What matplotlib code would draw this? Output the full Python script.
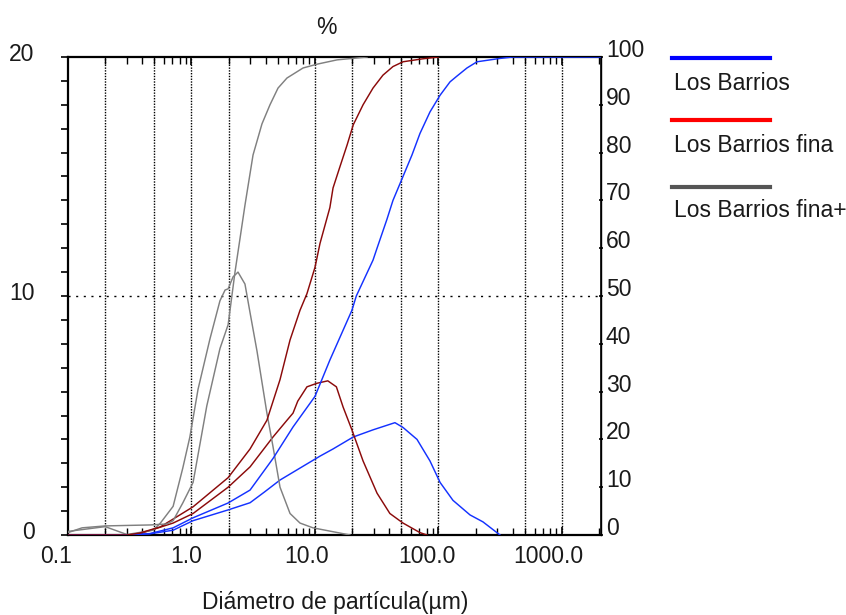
import matplotlib
matplotlib.use("Agg")
import matplotlib.pyplot as plt
from matplotlib.lines import Line2D
from matplotlib.ticker import FixedLocator, MultipleLocator, NullFormatter, LogLocator
import matplotlib.transforms as mtransforms

plt.rcParams['font.family'] = ['Liberation Sans', 'DejaVu Sans']
FS = 16.5
TXT = '#1a1a1a'

# ---------------- data (diameters in µm) ----------------
# Los Barrios
lb_freq_d = [0.1, 0.3, 0.46, 0.71, 1.03, 1.98, 2.98, 3.9, 5.21, 7.56, 10.98, 14.0, 20.4, 29.5, 44.4,
             51.6, 67, 85.3, 103, 131, 180, 229, 315]
lb_freq_v = [0, 0, 0.05, 0.2, 0.6, 1.05, 1.35, 1.8, 2.3, 2.8, 3.3, 3.6, 4.1, 4.4, 4.7,
             4.5, 4.0, 3.1, 2.2, 1.45, 0.84, 0.55, 0]
lb_cum_d = [0.1, 0.3, 0.46, 0.71, 1.03, 1.98, 2.98, 4.57, 6.64, 10.0, 13.2, 19.9, 21.6,
            29.5, 31.8, 38.2, 42.8, 51.6, 61, 70.8, 85.3, 103, 124, 141, 170, 205, 315, 400, 2070]
lb_cum_v = [0, 0, 0.3, 1.5, 3.6, 6.7, 9.4, 16, 22.6, 29, 36.6, 47, 50,
            57.5, 60, 66, 70, 75, 79.5, 84, 88.5, 92, 94.8, 96, 97.7, 99, 99.7, 100, 100]

# Los Barrios fina
lf_freq_d = [0.1, 0.3, 0.38, 0.71, 1.03, 1.98, 2.98, 4.57, 5.93, 6.64, 7.25, 8.61, 10.4, 12.7,
             14.9, 16.9, 19.9, 24.5, 31.8, 40.4, 51.6, 70.8, 80.7]
lf_freq_v = [0, 0, 0.05, 0.5, 0.9, 2.0, 2.85, 4.1, 4.8, 5.1, 5.6, 6.2, 6.35, 6.45,
             6.2, 5.35, 4.4, 3.1, 1.75, 0.9, 0.5, 0.1, 0]
lf_cum_d = [0.1, 0.3, 0.38, 0.56, 1.03, 1.98, 2.98, 4.08, 5.21, 6.28, 7.56, 8.61, 10.0, 10.98,
            13.2, 14.0, 15.9, 18.2, 20.4, 24.5, 29.5, 35.5, 42.8, 51.6, 73.5, 100]
lf_cum_v = [0, 0, 0.4, 1.7, 5.9, 12, 18, 24, 32.5, 40.8, 47, 50.5, 56, 61,
            68.5, 72.6, 77, 81.6, 85.8, 90, 93.5, 96.2, 98, 99, 99.6, 100]

# Los Barrios fina+
lp_freq_d = [0.1, 0.2, 0.3, 0.49, 0.56, 0.71, 0.85, 0.97, 1.13, 1.41, 1.70, 1.87, 1.98, 2.17,
             2.38, 2.71, 2.98, 3.39, 4.08, 4.57, 5.21, 6.28, 7.56, 9.63, 19.2]
lp_freq_v = [0.15, 0.35, 0.02, 0.2, 0.5, 1.2, 2.8, 4.1, 6.1, 8.2, 9.8, 10.25, 10.3, 10.8,
             11.0, 10.5, 9.3, 7.7, 5.1, 3.7, 2.0, 0.9, 0.5, 0.3, 0]
lp_cum_d = [0.1, 0.13, 0.2, 0.3, 0.46, 0.63, 0.71, 0.85, 1.03, 1.33, 1.70, 1.98, 2.25, 2.47,
            2.71, 3.15, 3.72, 4.32, 5.02, 5.93, 8.0, 10.4, 15.1, 26.4]
lp_cum_v = [0.5, 1.5, 1.9, 2.0, 2.1, 2.3, 3, 6.7, 11, 27, 39, 44, 55, 62,
            69, 79.5, 86, 90, 93.5, 95.6, 97.7, 98.5, 99.4, 100]

series_names = ['Los Barrios', 'Los Barrios fina', 'Los Barrios fina+']
curve_colors = ['#1432ff', '#8b0a0a', '#808080']
legend_colors = ['#0000ff', '#ff0000', '#555555']

x_ticks = [0.1, 1, 10, 100, 1000]
x_ticklabels = ['0.1', '1.0', '10.0', '100.0', '1000.0']
x_label_shift_px = [-12, -5, -8, -12, -14]
grid_x = [0.2, 0.5, 1, 2, 10, 20, 50, 100, 500, 1000]
left_ticks = [0, 10, 20]
right_ticks = list(range(0, 101, 10))

# ---------------- figure ----------------
fig = plt.figure(figsize=(8.46, 6.15), dpi=100)
W, H = 846, 615
L, R, T, B = 68, 601, 57, 535
ax = fig.add_axes([L / W, 1 - B / H, (R - L) / W, (B - T) / H])
ax.set_xscale('log')
ax.set_xlim(0.1, 2070)
ax.set_ylim(0, 20)

ax2 = ax.twinx()
ax2.set_ylim(0, 100)

# grid lines
for gx in grid_x:
    ax.axvline(gx, color='black', lw=1.0, ls=(0, (1, 1)), zorder=1)
ax.axhline(10, color='black', lw=1.0, ls=(0, (1.5, 4)), zorder=1)

# curves
for (fd, fv, cd, cv, c) in [(lb_freq_d, lb_freq_v, lb_cum_d, lb_cum_v, curve_colors[0]),
                            (lf_freq_d, lf_freq_v, lf_cum_d, lf_cum_v, curve_colors[1]),
                            (lp_freq_d, lp_freq_v, lp_cum_d, lp_cum_v, curve_colors[2])]:
    ax.plot(fd, fv, color=c, lw=1.05, zorder=3)
    ax2.plot(cd, cv, color=c, lw=1.05, zorder=3)

# spines
for sp in ['left', 'bottom', 'top']:
    ax.spines[sp].set_linewidth(1.6)
ax.spines['right'].set_linewidth(1.0)
for sp in ax2.spines.values():
    sp.set_visible(False)
ax2.spines['right'].set_visible(True)
ax2.spines['right'].set_linewidth(1.2)

# x ticks
ax.xaxis.set_major_locator(FixedLocator(x_ticks))
ax.set_xticklabels(x_ticklabels)
ax.xaxis.set_minor_locator(LogLocator(base=10, subs=range(2, 10)))
ax.xaxis.set_minor_formatter(NullFormatter())
ax.tick_params(axis='x', which='both', top=True, bottom=True, direction='in',
               labelsize=FS, labelcolor=TXT, pad=7)
ax.tick_params(axis='x', which='major', length=6, width=1.2)
ax.tick_params(axis='x', which='minor', length=5, width=1.0)
for lbl, sh in zip(ax.get_xticklabels(), x_label_shift_px):
    off = mtransforms.ScaledTranslation(sh / 100, 0, fig.dpi_scale_trans)
    lbl.set_transform(lbl.get_transform() + off)

# left y ticks
ax.yaxis.set_major_locator(FixedLocator(left_ticks))
ax.set_yticklabels([str(t) for t in left_ticks])
ax.yaxis.set_minor_locator(MultipleLocator(1))
ax.tick_params(axis='y', which='both', left=True, right=False, direction='out',
               length=5, width=1.2, labelsize=FS, labelcolor=TXT, pad=19)
offy = mtransforms.ScaledTranslation(0, 5 / 100, fig.dpi_scale_trans)
for lbl in ax.get_yticklabels():
    lbl.set_transform(lbl.get_transform() + offy)

# right y ticks
ax2.yaxis.set_major_locator(FixedLocator(right_ticks))
ax2.set_yticklabels([str(t) for t in right_ticks])
ax2.tick_params(axis='y', which='both', right=True, left=False, direction='inout',
                length=3, width=1.2, labelsize=FS, labelcolor=TXT, pad=2)
for lbl in ax2.get_yticklabels():
    lbl.set_verticalalignment('baseline')

# texts
fig.text(326 / W, 1 - 27 / H, '%', ha='center', va='center', fontsize=FS, color=TXT)
fig.text(335 / W, 1 - 603 / H, 'Diámetro de partícula(µm)', ha='center', va='center',
         fontsize=FS, color=TXT)

# manual legend
leg_line_y = [57.5, 120, 186.5]
leg_text_y = [83, 145, 211]
for name, col, ly, ty in zip(series_names, legend_colors, leg_line_y, leg_text_y):
    fig.add_artist(Line2D([672 / W, 770 / W], [1 - ly / H, 1 - ly / H], color=col, lw=3.0,
                          transform=fig.transFigure))
    fig.text(674 / W, 1 - ty / H, name, ha='left', va='center', fontsize=FS, color=TXT)

fig.savefig('out.png', dpi=100, facecolor='white')
